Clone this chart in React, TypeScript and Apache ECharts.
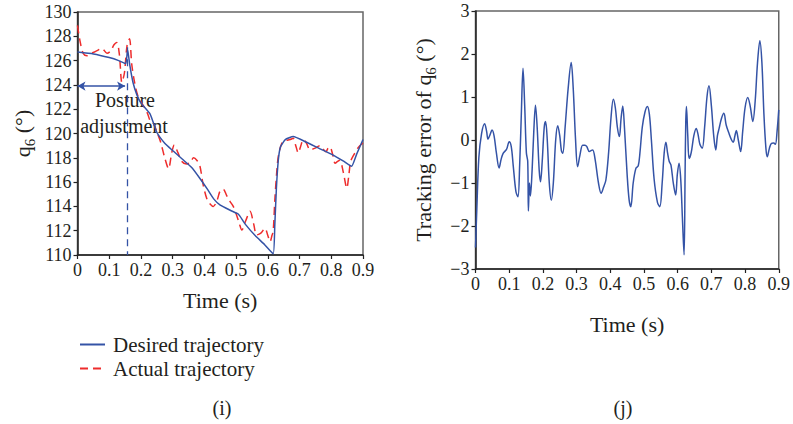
import React, { useEffect, useRef } from "react";
import * as echarts from "echarts";

const xTicks = [0, 0.1, 0.2, 0.3, 0.4, 0.5, 0.6, 0.7, 0.8, 0.9];

const desiredT = [0, 0.05, 0.1, 0.13, 0.152, 0.158, 0.165, 0.175, 0.187, 0.2, 0.229, 0.25, 0.275, 0.3, 0.33, 0.36, 0.386, 0.41, 0.43, 0.45, 0.48, 0.505, 0.512, 0.53, 0.56, 0.59, 0.617, 0.622, 0.627, 0.633, 0.64, 0.655, 0.68, 0.72, 0.76, 0.8, 0.84, 0.864, 0.88, 0.9];
const desiredQ = [126.7, 126.55, 126.25, 126.0, 125.75, 126.9, 125.6, 124.2, 123.2, 122.5, 121.6, 120.1, 119.2, 118.6, 117.9, 117.2, 116.3, 115.4, 114.6, 114.1, 113.7, 113.4, 113.2, 112.5, 111.6, 110.85, 110.1, 112.5, 115.5, 117.8, 118.9, 119.5, 119.75, 119.3, 118.8, 118.3, 117.7, 117.3, 118.3, 119.5];

const actualT = [0, 0.008, 0.018, 0.03, 0.045, 0.06, 0.077, 0.093, 0.105, 0.115, 0.124, 0.132, 0.14, 0.148, 0.156, 0.164, 0.171, 0.18, 0.19, 0.2, 0.21, 0.22, 0.23, 0.24, 0.25, 0.262, 0.275, 0.287, 0.297, 0.305, 0.317, 0.329, 0.343, 0.355, 0.366, 0.376, 0.386, 0.396, 0.408, 0.418, 0.428, 0.44, 0.45, 0.46, 0.47, 0.481, 0.491, 0.5, 0.51, 0.518, 0.53, 0.544, 0.555, 0.565, 0.578, 0.591, 0.6, 0.607, 0.613, 0.617, 0.622, 0.628, 0.633, 0.644, 0.655, 0.67, 0.68, 0.688, 0.696, 0.704, 0.712, 0.722, 0.733, 0.749, 0.764, 0.775, 0.783, 0.79, 0.796, 0.805, 0.812, 0.82, 0.827, 0.838, 0.849, 0.855, 0.861, 0.87, 0.88, 0.89, 0.9];
const actualQ = [128.9, 127.6, 126.6, 126.4, 126.6, 126.8, 127.0, 126.6, 126.8, 127.3, 127.5, 126.5, 124.2, 125.0, 127.2, 127.8, 125.7, 124.2, 123.1, 122.6, 122.2, 121.7, 121.0, 120.8, 120.15, 119.3, 118.0, 117.1, 118.4, 119.05, 118.4, 117.7, 117.5, 117.6, 118.0, 117.8, 117.3, 115.8, 114.6, 114.2, 114.0, 114.5, 115.3, 115.4, 114.9, 114.4, 114.0, 113.4, 112.6, 112.05, 112.8, 113.6, 112.6, 111.65, 111.8, 112.2, 111.6, 111.1, 111.6, 112.0, 114.5, 116.8, 118.1, 119.2, 119.4, 119.5, 119.6, 119.0, 118.4, 119.0, 119.5, 119.2, 118.65, 118.8, 119.0, 118.7, 118.5, 118.8, 118.9, 118.2, 117.55, 117.7, 117.8, 116.8, 115.5, 116.5, 117.7, 118.2, 118.65, 119.0, 119.2];

const errorT = [0, 0.004, 0.01, 0.018, 0.027, 0.033, 0.037, 0.043, 0.049, 0.055, 0.062, 0.07, 0.076, 0.082, 0.092, 0.1, 0.106, 0.112, 0.12, 0.126, 0.131, 0.136, 0.141, 0.146, 0.151, 0.155, 0.157, 0.16, 0.163, 0.168, 0.173, 0.178, 0.183, 0.189, 0.193, 0.198, 0.204, 0.208, 0.213, 0.219, 0.225, 0.231, 0.238, 0.244, 0.25, 0.255, 0.259, 0.266, 0.275, 0.284, 0.29, 0.297, 0.303, 0.31, 0.318, 0.325, 0.33, 0.338, 0.344, 0.348, 0.355, 0.365, 0.373, 0.38, 0.387, 0.395, 0.402, 0.409, 0.415, 0.421, 0.427, 0.432, 0.437, 0.442, 0.45, 0.456, 0.461, 0.468, 0.476, 0.483, 0.488, 0.495, 0.503, 0.51, 0.516, 0.522, 0.53, 0.54, 0.547, 0.554, 0.56, 0.565, 0.57, 0.575, 0.58, 0.587, 0.594, 0.599, 0.604, 0.609, 0.614, 0.619, 0.622, 0.624, 0.626, 0.63, 0.634, 0.64, 0.648, 0.655, 0.66, 0.666, 0.673, 0.68, 0.687, 0.693, 0.7, 0.707, 0.713, 0.718, 0.723, 0.73, 0.737, 0.744, 0.752, 0.76, 0.765, 0.77, 0.774, 0.78, 0.787, 0.793, 0.8, 0.808, 0.815, 0.823, 0.83, 0.837, 0.844, 0.85, 0.856, 0.862, 0.866, 0.872, 0.878, 0.885, 0.89, 0.895, 0.9];
const errorV = [-2.5, -1.6, -0.4, 0.15, 0.38, 0.2, 0.02, 0.12, 0.23, 0.1, -0.3, -0.65, -0.45, -0.31, -0.22, -0.04, -0.15, -0.6, -1.2, -1.32, -0.6, 0.6, 1.67, 0.8, -0.3, -0.5, -1.65, -1.0, -1.3, -0.7, 0.2, 0.81, 0.3, -0.7, -0.97, -0.5, 0.3, 0.43, 0.0, -1.0, -1.4, -1.0, 0.0, 0.33, 0.1, -0.25, -0.31, 0.3, 1.2, 1.8, 1.2, 0.0, -0.62, -0.35, -0.12, -0.12, -0.15, -0.27, -0.24, -0.23, -0.45, -1.0, -1.24, -1.1, -0.93, -0.3, 0.5, 0.95, 0.75, 0.3, 0.08, 0.5, 0.79, 0.3, -0.8, -1.4, -1.55, -1.0, -0.66, -0.6, -0.3, 0.3, 0.65, 0.78, 0.6, 0.0, -0.9, -1.45, -1.55, -1.0, -0.3, -0.05, -0.3, -0.5, -0.58, -1.0, -1.28, -0.8, -0.54, -0.9, -1.8, -2.67, -0.8, 0.4, 0.78, 0.1, -0.43, -0.3, 0.1, 0.27, 0.15, -0.1, -0.19, 0.3, 1.0, 1.26, 0.8, 0.1, -0.23, 0.1, 0.27, 0.5, 0.62, 0.35, 0.16, 0.0, -0.05, 0.1, 0.22, 0.0, -0.27, 0.2, 0.75, 0.99, 0.8, 0.43, 0.9, 1.8, 2.31, 1.8, 0.6, -0.2, -0.39, -0.2, -0.08, -0.07, -0.1, 0.2, 0.7];

const postureT = 0.158;
const postureTop = 127.1;
const arrowQ = 123.9;
const arrowEnd = 0.15;

const FONT = "Liberation Serif";
const BLUE = "#3453a6";
const RED = "#ee2c2c";
const TXT = "#231f20";

const pairs = (ts: number[], vs: number[]) => ts.map((t, i) => [t, vs[i]]);

function makeXAxis(gridIndex: number, nameGap: number) {
  return {
    type: "value" as const,
    gridIndex,
    min: 0,
    max: 0.9,
    interval: 0.1,
    name: "Time (s)",
    nameLocation: "middle" as const,
    nameGap,
    nameTextStyle: { fontFamily: FONT, fontSize: 22, color: TXT },
    axisLine: { show: true, onZero: false, lineStyle: { color: "#222", width: 1.5 } },
    axisTick: { show: true, inside: false, length: 4, lineStyle: { color: "#222", width: 1.2 } },
    axisLabel: {
      fontFamily: FONT,
      fontSize: 18,
      color: TXT,
      margin: 6,
      formatter: (v: number) => (v === 0 ? "0" : v.toFixed(1)),
    },
    splitLine: { show: false },
  };
}

export default function App() {
  const ref = useRef<HTMLDivElement>(null);
  useEffect(() => {
    if (!ref.current) return;
    const chart = echarts.init(ref.current, undefined, { renderer: "svg" });
    const rich = {
      n: { fontFamily: FONT, fontSize: 22, color: TXT, lineHeight: 30, verticalAlign: "middle" },
      s: { fontFamily: FONT, fontSize: 15, color: TXT, lineHeight: 30, verticalAlign: "bottom" },
    };
    chart.setOption({
      animation: false,
      backgroundColor: "#ffffff",
      grid: [
        { left: 77.5, top: 12, width: 285.5, height: 243, show: true, borderColor: "#666", borderWidth: 1.5, backgroundColor: "transparent" },
        { left: 475.5, top: 11, width: 304, height: 258, show: true, borderColor: "#666", borderWidth: 1.5, backgroundColor: "transparent" },
      ],
      xAxis: [makeXAxis(0, 34), makeXAxis(1, 44)],
      yAxis: [
        {
          type: "value",
          gridIndex: 0,
          min: 110,
          max: 130,
          interval: 2,
          name: "{n|q}{s|6}{n| (°)}",
          nameLocation: "middle",
          nameGap: 40,
          nameRotate: 90,
          nameTextStyle: { rich },
          axisLine: { show: true, lineStyle: { color: "#222", width: 1.5 } },
          axisTick: { show: true, length: 4, lineStyle: { color: "#222", width: 1.2 } },
          axisLabel: { fontFamily: FONT, fontSize: 18, color: TXT, margin: 6 },
          splitLine: { show: false },
        },
        {
          type: "value",
          gridIndex: 1,
          min: -3,
          max: 3,
          interval: 1,
          name: "{n|Tracking error of q}{s|6}{n| (°)}",
          nameLocation: "middle",
          nameGap: 37,
          nameRotate: 90,
          nameTextStyle: { rich },
          axisLine: { show: true, onZero: false, lineStyle: { color: "#222", width: 1.5 } },
          axisTick: { show: true, length: 4, lineStyle: { color: "#222", width: 1.2 } },
          axisLabel: {
            fontFamily: FONT,
            fontSize: 18,
            color: TXT,
            margin: 6,
            formatter: (v: number) => String(v).replace("-", "\u2212"),
          },
          splitLine: { show: false },
        },
      ],
      legend: {
        data: ["Desired trajectory", "Actual trajectory"],
        orient: "vertical",
        left: 74,
        top: 329,
        itemWidth: 25,
        itemHeight: 14,
        itemGap: 3,
        itemStyle: { opacity: 0 },
        textStyle: { fontFamily: FONT, fontSize: 21, color: TXT, padding: [0, 0, 0, 3] },
      },
      series: [
        {
          name: "Desired trajectory",
          type: "line",
          xAxisIndex: 0,
          yAxisIndex: 0,
          data: pairs(desiredT, desiredQ),
          symbol: "none",
          smooth: 0.15,
          lineStyle: { color: BLUE, width: 1.5 },
          itemStyle: { color: BLUE },
          z: 3,
          markLine: {
            silent: true,
            symbol: ["arrow", "arrow"],
            symbolSize: [7, 8],
            label: { show: false },
            data: [
              [
                { coord: [postureT, postureTop], symbol: "none", lineStyle: { color: BLUE, width: 1.3, type: [7, 5] } },
                { coord: [postureT, 110], symbol: "none" },
              ],
              [
                { coord: [0, arrowQ], lineStyle: { color: BLUE, width: 1.5, type: "solid" } },
                { coord: [arrowEnd, arrowQ] },
              ],
            ],
          },
        },
        {
          name: "Actual trajectory",
          type: "line",
          xAxisIndex: 0,
          yAxisIndex: 0,
          data: pairs(actualT, actualQ),
          symbol: "none",
          smooth: 0.3,
          lineStyle: { color: RED, width: 1.5, type: [8, 5] },
          itemStyle: { color: RED },
          z: 2,
        },
        {
          name: "Tracking error",
          type: "line",
          xAxisIndex: 1,
          yAxisIndex: 1,
          data: pairs(errorT, errorV),
          symbol: "none",
          smooth: 0.35,
          lineStyle: { color: BLUE, width: 1.5 },
          itemStyle: { color: BLUE },
        },
      ],
      graphic: [
        { type: "text", x: 125, y: 100, style: { text: "Posture", fontFamily: FONT, fontSize: 20, fill: TXT, align: "center", verticalAlign: "middle" } },
        { type: "text", x: 124, y: 126, style: { text: "adjustment", fontFamily: FONT, fontSize: 20, fill: TXT, align: "center", verticalAlign: "middle" } },
        { type: "text", x: 222, y: 408, style: { text: "(i)", fontFamily: FONT, fontSize: 20, fill: TXT, align: "center", verticalAlign: "middle" } },
        { type: "text", x: 623, y: 408, style: { text: "(j)", fontFamily: FONT, fontSize: 20, fill: TXT, align: "center", verticalAlign: "middle" } },
      ],
    });
    return () => chart.dispose();
  }, []);
  return <div ref={ref} style={{ position: "fixed", left: 0, top: 0, width: 793, height: 424 }} />;
}
